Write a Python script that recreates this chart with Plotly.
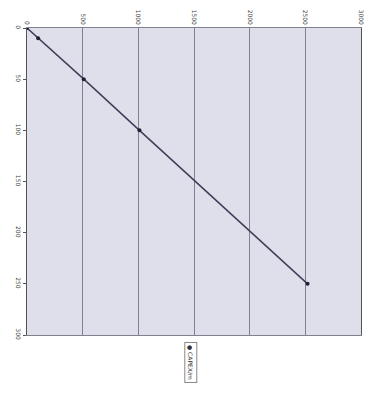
import plotly.graph_objects as go

# original chart (scanned, rotated 90 degrees clockwise)
x_vals = [0, 10, 50, 100, 250]          # original x (shown on left axis)
y_vals = [0, 100, 510, 1010, 2520]      # original y (shown on top axis)
series_name = "CAPEX/m"
top_ticks = [0, 500, 1000, 1500, 2000, 2500, 3000]
left_ticks = [0, 50, 100, 150, 200, 250, 300]

fig = go.Figure()
fig.add_trace(go.Scatter(
    x=y_vals, y=x_vals, mode="lines+markers", name=series_name,
    line=dict(color="#3b4058", width=1.5),
    marker=dict(color="#1e2233", size=4),
    showlegend=False,
))

# page body has an 8px default margin: size the figure so it fits the window
fig.update_layout(
    width=366, height=386,
    margin=dict(l=19, r=13, t=20, b=59),
    paper_bgcolor="white",
    plot_bgcolor="#dedfea",
    font=dict(family="DejaVu Sans", size=6, color="#444"),
    xaxis=dict(
        side="top", range=[0, 3000], tickvals=top_ticks,
        ticktext=[str(t) for t in top_ticks], tickangle=90,
        showgrid=True, gridcolor="#7f818e", gridwidth=1,
        zeroline=False, showline=True, linecolor="#7f818e", mirror=True,
        ticks="", automargin=False,
    ),
    yaxis=dict(
        range=[300, 0], tickvals=left_ticks,
        ticktext=[str(t) for t in left_ticks], tickangle=90,
        showgrid=False, zeroline=False,
        showline=True, linecolor="#555", mirror=True,
        ticks="outside", ticklen=3, tickcolor="#555", automargin=False,
    ),
)

fig.add_annotation(
    xref="paper", yref="paper", x=0.49, y=-0.09,
    text="● " + series_name, textangle=90, showarrow=False,
    font=dict(size=6, color="#333"),
    bordercolor="#888", borderwidth=1, borderpad=2, bgcolor="white",
    yanchor="middle", xanchor="center",
)

fig.write_html("out.html")
